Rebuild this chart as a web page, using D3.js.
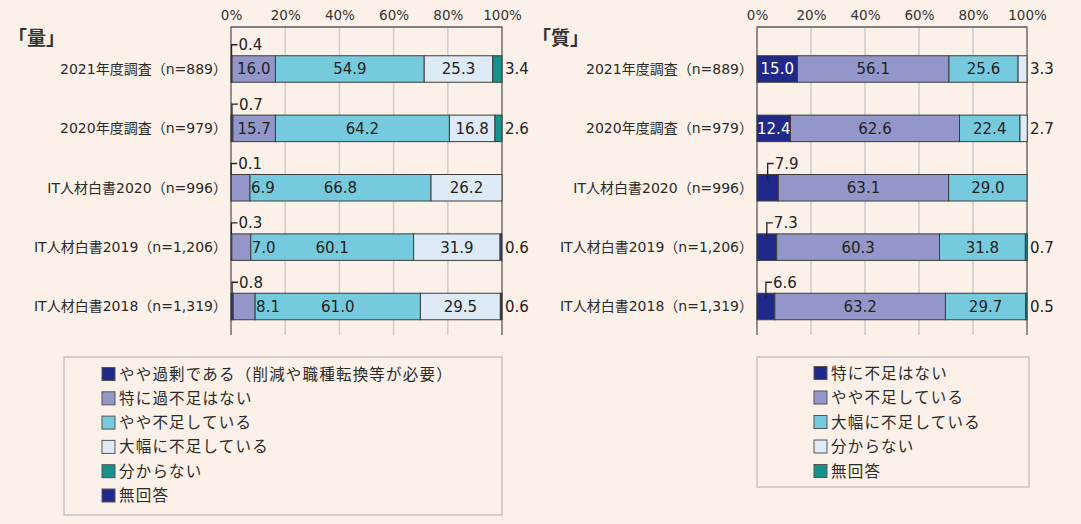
<!DOCTYPE html>
<html><head><meta charset="utf-8">
<script src="https://cdn.jsdelivr.net/npm/d3@7"></script>
<style>
body{margin:0;background:#fbf1e9;}
svg{display:block;font-family:"Noto Sans CJK JP",sans-serif;}
</style>
</head><body>
<svg id="c" width="1081" height="524"></svg>
<script>
// ---- data ----
const categories = ["2021年度調査（n=889）","2020年度調査（n=979）","IT人材白書2020（n=996）","IT人材白書2019（n=1,206）","IT人材白書2018（n=1,319）"];
const tickValues = [0,20,40,60,80,100];
const tickLabels = ["0%","20%","40%","60%","80%","100%"];

const quantityTitle = "「量」";
const quantitySeries = ["やや過剰である（削減や職種転換等が必要）","特に過不足はない","やや不足している","大幅に不足している","分からない","無回答"];
const qOverstaffed   = [0.4, 0.7, 0.1, 0.3, 0.8];
const qNoExcess      = [16.0, 15.7, 6.9, 7.0, 8.1];
const qSomewhatShort = [54.9, 64.2, 66.8, 60.1, 61.0];
const qVeryShort     = [25.3, 16.8, 26.2, 31.9, 29.5];
const qUnknown       = [3.4, 2.6, 0, 0, 0];
const qNoAnswer      = [0, 0, 0, 0.6, 0.6];

const qualityTitle = "「質」";
const qualitySeries = ["特に不足はない","やや不足している","大幅に不足している","分からない","無回答"];
const lNoShortage    = [15.0, 12.4, 7.9, 7.3, 6.6];
const lSomewhatShort = [56.1, 62.6, 63.1, 60.3, 63.2];
const lVeryShort     = [25.6, 22.4, 29.0, 31.8, 29.7];
const lUnknown       = [3.3, 2.7, 0, 0, 0];
const lNoAnswer      = [0, 0, 0, 0.7, 0.5];

// ---- styles ----
const NAVY="#20288a", LAV="#9396c9", CYAN="#76cadd", PALE="#deeaf5", TEAL="#16918b";
const svg = d3.select("#c");
const fmt = d3.format(".1f");
const numFont = "DejaVu Sans, sans-serif";

// split a label into ASCII / non-ASCII runs so Latin uses a wide Verdana-like face
function runs(s){
  const out=[]; let cur="", asc=null;
  for(const ch of s){
    const a = ch.charCodeAt(0) < 128;
    if(asc===null || a===asc){cur+=ch; asc=a;}
    else {out.push({t:cur,a:asc}); cur=ch; asc=a;}
  }
  if(cur) out.push({t:cur,a:asc});
  return out;
}

function drawPanel(o){
  const x = d3.scaleLinear().domain([0,100]).range([o.x0,o.x1]);
  const y = d3.scalePoint().domain(categories).range([69,306.5]);
  const bh = 26.5;
  const g = svg.append("g");
  const top = 27, bottom = 335;

  // gridlines
  g.selectAll("line.grid").data(tickValues.slice(1,-1)).join("line")
    .attr("x1",d=>x(d)).attr("x2",d=>x(d)).attr("y1",top).attr("y2",bottom)
    .attr("stroke","#cfcfcf").attr("stroke-width",1.6);
  // frame
  g.append("path").attr("d",`M${x(0)},${bottom}V${top}H${x(100)}V${bottom}`)
    .attr("fill","none").attr("stroke","#5a5a5a").attr("stroke-width",1.3);
  // tick labels
  const axis = d3.axisTop(x).tickValues(tickValues).tickFormat((d,i)=>tickLabels[i]).tickSize(0).tickPadding(0);
  const ag = g.append("g").attr("transform","translate(0,20)").call(axis);
  ag.select(".domain").remove();
  ag.selectAll("text").attr("font-family",numFont).attr("font-size",13.5).attr("fill","#333");

  // title
  g.append("text").attr("x",o.tx).attr("y",38).attr("dy","0.35em")
    .attr("font-size",19).attr("font-weight","bold").attr("fill","#333").text(o.title);

  // category labels
  const cl = g.selectAll("text.cat").data(categories).join("text")
    .attr("x",x(0)-4).attr("y",d=>y(d)).attr("dy","0.35em").attr("text-anchor","end")
    .attr("font-size",14).attr("fill","#2a2a2a");
  cl.each(function(d){
    const el = d3.select(this);
    runs(d).forEach(r=>{
      el.append("tspan").attr("font-family", r.a ? "DejaVu Sans" : "Noto Sans CJK JP").text(r.t);
    });
  });

  const rows = categories.map((c,i)=>{const r={cat:c}; o.values.forEach((v,k)=>r[k]=v[i]); return r;});
  const keys = o.values.map((v,k)=>k);
  const stack = d3.stack().keys(keys)(rows);

  stack.forEach((layer,k)=>{
    g.selectAll(null).data(layer.filter(d=>d[1]-d[0]>0)).join("rect")
      .attr("x",d=>x(d[0])).attr("width",d=>x(d[1])-x(d[0]))
      .attr("y",d=>y(d.data.cat)-bh/2).attr("height",bh)
      .attr("fill",o.colors[k]).attr("stroke","#3c3c3c").attr("stroke-width",1);
  });

  // labels
  stack.forEach((layer,k)=>{
    layer.forEach(d=>{
      const v = d[1]-d[0];
      if(v<=0) return;
      const cy = y(d.data.cat);
      const w = x(d[1])-x(d[0]);
      const t = g.append("text").attr("font-family",numFont).attr("font-size",15).attr("fill","#222").text(fmt(v));
      if(k>=o.outsideFrom){
        t.attr("x",x(100)+3).attr("y",cy).attr("dy","0.36em");
      } else if(k===0 && w<30){
        const lx = (x(d[0])+x(d[1]))/2;
        const ty = cy-bh/2;
        g.append("path").attr("d",`M${lx},${ty+o.leadIn}V${ty-11}H${lx+6}`)
          .attr("fill","none").attr("stroke","#222").attr("stroke-width",1.3);
        t.attr("x",lx+7).attr("y",ty-11).attr("dy","0.36em");
      } else if(w<30){
        t.attr("x",x(d[1])+1).attr("y",cy).attr("dy","0.36em");
      } else {
        t.attr("x",(x(d[0])+x(d[1]))/2).attr("y",cy).attr("dy","0.36em").attr("text-anchor","middle");
        if(k===0 && o.colors[0]===NAVY) t.attr("fill","#fff");
      }
    });
  });

  // legend
  const L = o.legend;
  svg.append("rect").attr("x",L.x).attr("y",L.y).attr("width",L.w).attr("height",L.h)
    .attr("fill","none").attr("stroke","#c6c6c6").attr("stroke-width",1.5);
  o.series.forEach((s,i)=>{
    const cy = L.y0 + i*L.step;
    svg.append("rect").attr("x",L.sx).attr("y",cy-6.5).attr("width",13).attr("height",13)
      .attr("fill",o.colors[i]).attr("stroke","#555").attr("stroke-width",1);
    svg.append("text").attr("x",L.sx+17).attr("y",cy).attr("dy","0.36em")
      .attr("font-size",15.5).attr("letter-spacing",1.2).attr("fill","#2a2a2a").text(s);
  });
}

drawPanel({
  x0:231, x1:502, title:quantityTitle, tx:8,
  values:[qOverstaffed,qNoExcess,qSomewhatShort,qVeryShort,qUnknown,qNoAnswer],
  colors:[NAVY,LAV,CYAN,PALE,TEAL,NAVY], series:quantitySeries,
  outsideFrom:4, leadIn:0,
  legend:{x:64,y:357,w:438,h:158,sx:102,y0:374,step:24.3}
});
drawPanel({
  x0:757, x1:1027, title:qualityTitle, tx:532,
  values:[lNoShortage,lSomewhatShort,lVeryShort,lUnknown,lNoAnswer],
  colors:[NAVY,LAV,CYAN,PALE,TEAL], series:qualitySeries,
  outsideFrom:3, leadIn:5,
  legend:{x:757,y:357,w:272,h:130,sx:814,y0:373,step:24.5}
});
</script>
</body></html>
